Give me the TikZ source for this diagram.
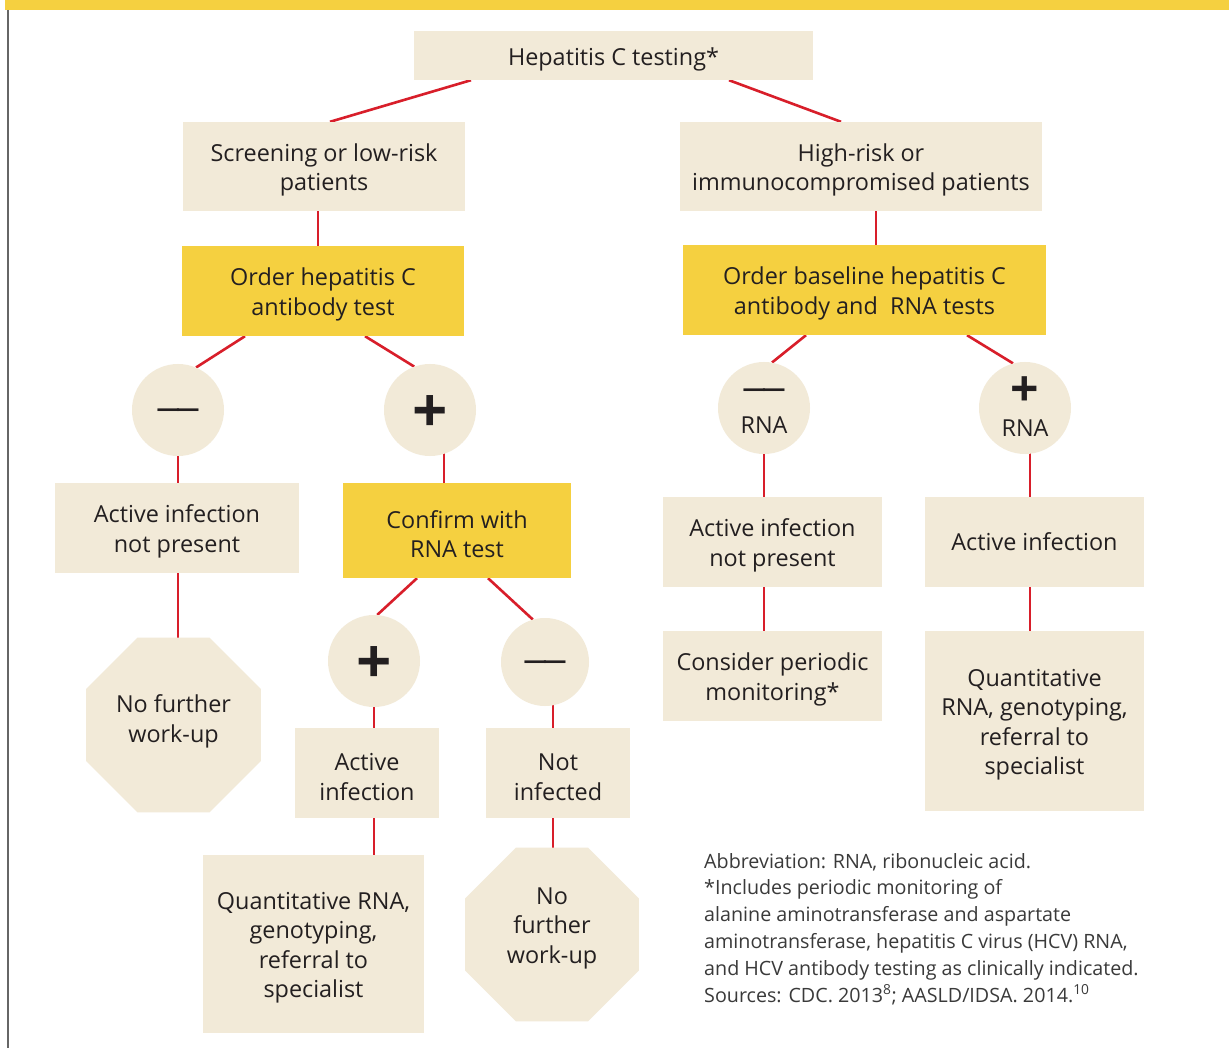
\documentclass[tikz,border=0pt]{standalone}
\usepackage{fontspec}
\setmainfont{Open Sans}
\usetikzlibrary{shapes.geometric,calc}
\definecolor{beige}{HTML}{F2EAD8}
\definecolor{gold}{HTML}{F5D040}
\definecolor{redline}{HTML}{D81E2A}
\definecolor{ink}{HTML}{231F20}
\definecolor{note}{HTML}{3A3A3A}
\definecolor{rule}{HTML}{666666}
\pgfdeclarelayer{back}
\pgfdeclarelayer{bg}
\pgfsetlayers{back,bg,main}
\newcommand{\longdash}{{\bfseries —\kern-4pt—}}
\newcommand{\topstrut}{\rule{0pt}{25pt}}
\begin{document}
\begin{tikzpicture}[x=1pt,y=-1pt,
  box/.style={fill=beige, draw=none, inner sep=0pt, align=center, text=ink,
    font=\fontsize{23.4}{29.5}\selectfont},
  ybox/.style={box, fill=gold},
  disc/.style={circle, fill=beige, draw=none, inner sep=0pt, minimum size=92pt,
    align=center, text=ink, font=\fontsize{23.4}{33}\selectfont},
  plus/.style={font=\fontsize{62}{62}\selectfont\bfseries},
  oct/.style={regular polygon, regular polygon sides=8, fill=beige, draw=none,
    inner sep=0pt, minimum size=189pt, align=center, text=ink,
    font=\fontsize{23.4}{29.5}\selectfont},
  link/.style={draw=redline, line width=2.6pt}]
\useasboundingbox (0,0) rectangle (1229,1048);
\begin{pgfonlayer}{back}
\fill[white] (0,0) rectangle (1229,1048);
\fill[gold] (5,0) rectangle (1229,10);
\draw[rule, line width=2pt] (8,10) -- (8,1048);
\end{pgfonlayer}

% nodes
\node[box, minimum width=399pt, minimum height=49pt] (top) at (613.5,55.5) {\topstrut Hepatitis C testing*};
\node[box, minimum width=282pt, minimum height=89pt] (scr) at (324,166.5) {\topstrut Screening or low-risk\\patients};
\node[box, minimum width=362pt, minimum height=89pt] (hr) at (861,166.5) {\topstrut High-risk or\\immunocompromised patients};
\node[ybox, minimum width=282pt, minimum height=90pt] (ordA) at (323,291) {\topstrut Order hepatitis C\\antibody test};
\node[ybox, minimum width=363pt, minimum height=90pt] (ordB) at (864.5,290) {\topstrut Order baseline hepatitis C\\antibody and \ RNA tests};
\node[disc] (c1) at (178,410) {\vphantom{+}\longdash};
\node[disc, plus] (c2) at (430,410) {\vphantom{A}+};
\node[disc] (c3) at (764,408) {\rule{0pt}{14pt}\longdash\\[3pt]RNA};
\node[disc] (c4) at (1025,408) {{\fontsize{50}{30}\selectfont\bfseries +}\\[-3pt]RNA\rule[-3pt]{0pt}{0pt}};
\node[box, minimum width=244pt, minimum height=90pt] (anp1) at (177,528) {\topstrut Active infection\\not present};
\node[ybox, minimum width=228pt, minimum height=95pt] (conf) at (457,530.5) {\topstrut Confirm with\\RNA test};
\node[box, minimum width=219pt, minimum height=90pt] (anp2) at (772.5,542) {\topstrut Active infection\\not present};
\node[box, minimum width=219pt, minimum height=90pt] (ai2) at (1034.5,542) {Active infection};
\node[oct] (oct1) at (173.5,725) {No further\\work-up\rule[-13pt]{0pt}{0pt}};
\node[disc, plus] (c5) at (374,661) {\vphantom{A}+};
\node[disc, minimum size=88pt] (c6) at (545,662) {\vphantom{+}\longdash};
\node[box, minimum width=144pt, minimum height=90pt] (ai1) at (367,773) {\topstrut Active\\infection};
\node[box, minimum width=144pt, minimum height=90pt] (ni) at (558,773) {\topstrut Not\\infected};
\node[box, minimum width=219pt, minimum height=90pt] (cpm) at (772.5,676) {\topstrut Consider periodic\\monitoring*};
\node[box, minimum width=219pt, minimum height=180pt] (q2) at (1034.5,721) {\topstrut Quantitative\\RNA, genotyping,\\referral to\\specialist};
\node[box, minimum width=221pt, minimum height=178pt] (q1) at (313.5,944) {\topstrut Quantitative RNA,\\genotyping,\\referral to\\specialist};
\node[oct, minimum size=188pt] (oct2) at (552,934.5) {No\\further\\work-up\rule[-18pt]{0pt}{0pt}};
\node[anchor=north west, align=left, inner sep=0pt, text=note,
  font=\fontsize{19.7}{26.8}\selectfont] (fn) at (704,853)
  {Abbreviation: RNA, ribonucleic acid.\\
   *Includes periodic monitoring of\\
   alanine aminotransferase and aspartate\\
   aminotransferase, hepatitis C virus (HCV) RNA,\\
   and HCV antibody testing as clinically indicated.\\
   Sources: CDC. 2013\textsuperscript{8}; AASLD/IDSA. 2014.\textsuperscript{10}};

% connectors
\begin{pgfonlayer}{bg}
\draw[link] ([xshift=-142.5pt]top.south) -- ([xshift=6pt]scr.north);
\draw[link] ([xshift=115.5pt]top.south) -- ([xshift=-20pt]hr.north);
\draw[link] ([xshift=-6pt]scr.center) -- ([xshift=-5pt]ordA.center);
\draw[link] ([xshift=15pt]hr.center) -- ([xshift=11.5pt]ordB.center);
\draw[link] ([xshift=-78pt]ordA.south) -- (c1.67);
\draw[link] ([xshift=42pt]ordA.south) -- (c2.110);
\draw[link] ([xshift=-58.5pt]ordB.south) -- (c3.80);
\draw[link] ([xshift=102.5pt]ordB.south) -- (c4.105);
\draw[link] (c1.center) -- ([xshift=1pt]anp1.center);
\draw[link] ([xshift=1pt]anp1.center) -- ([xshift=4.5pt]oct1.center);
\draw[link] ([xshift=14pt]c2.center) -- ([xshift=-13pt]conf.center);
\draw[link] ([xshift=-40pt]conf.south) -- (c5.86);
\draw[link] ([xshift=31pt]conf.south) -- (c6.106);
\draw[link] (c5.center) -- ([xshift=7pt]ai1.center);
\draw[link] ([xshift=7pt]ai1.center) -- ([xshift=60.5pt]q1.center);
\draw[link] ([xshift=8pt]c6.center) -- ([xshift=-5pt]ni.center);
\draw[link] ([xshift=-5pt]ni.center) -- ([xshift=1pt]oct2.center);
\draw[link] (c3.center) -- ([xshift=-8.5pt]anp2.center);
\draw[link] ([xshift=-8.5pt]anp2.center) -- ([xshift=-8.5pt]cpm.center);
\draw[link] ([xshift=5pt]c4.center) -- ([xshift=-4.5pt]ai2.center);
\draw[link] ([xshift=-4.5pt]ai2.center) -- ([xshift=-4.5pt]q2.center);
\end{pgfonlayer}
\end{tikzpicture}
\end{document}
